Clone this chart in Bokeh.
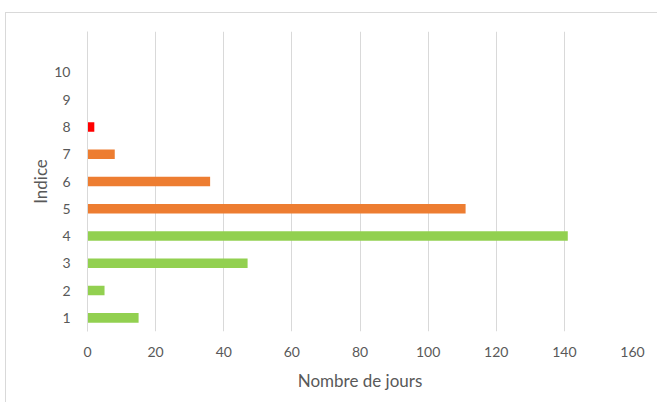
from bokeh.plotting import figure
from bokeh.models import ColumnDataSource, FixedTicker, Range1d
from bokeh.embed import file_html
from bokeh.resources import INLINE

indices = [1, 2, 3, 4, 5, 6, 7, 8, 9, 10]
jours = [15, 5, 47, 141, 111, 36, 8, 2, 0, 0]
couleurs = ["#92d050", "#92d050", "#92d050", "#92d050",
            "#ed7d31", "#ed7d31", "#ed7d31", "#ff0000", "#ff0000", "#ff0000"]
x_ticks = [0, 20, 40, 60, 80, 100, 120, 140, 160]

src = ColumnDataSource(dict(y=indices, right=jours, color=couleurs))

p = figure(width=652, height=390, output_backend="svg", toolbar_location=None,
           x_range=Range1d(0, 160), y_range=Range1d(0.5, 11.5),
           min_border_left=81, min_border_right=26, min_border_top=18, min_border_bottom=72)
p.hbar(y="y", left=0, right="right", height=0.35, fill_color="color", line_color=None, source=src)

font = "Lato"
p.xaxis.ticker = FixedTicker(ticks=x_ticks)
p.yaxis.ticker = FixedTicker(ticks=indices)
for ax in (p.xaxis[0], p.yaxis[0]):
    ax.axis_line_color = None
    ax.major_tick_line_color = None
    ax.minor_tick_line_color = None
    ax.major_label_text_font = font
    ax.major_label_text_font_size = "14px"
    ax.major_label_text_color = "#595959"
    ax.axis_label_text_font = font
    ax.axis_label_text_font_size = "17px"
    ax.axis_label_text_font_style = "normal"
    ax.axis_label_text_color = "#595959"
p.yaxis.axis_line_color = "#d9d9d9"
p.xaxis.axis_label = "Nombre de jours"
p.yaxis.axis_label = "Indice"
p.xaxis.major_label_standoff = 9
p.yaxis.major_label_standoff = 11
p.xaxis.axis_label_standoff = 10
p.yaxis.axis_label_standoff = 0

p.xgrid.grid_line_color = "#d9d9d9"
p.ygrid.grid_line_color = None
p.outline_line_color = None
p.styles = {"border-left": "1px solid #d9d9d9", "border-top": "1px solid #d9d9d9",
            "margin-left": "5px", "margin-top": "12px"}

open("out.html", "w").write(file_html(p, INLINE))
